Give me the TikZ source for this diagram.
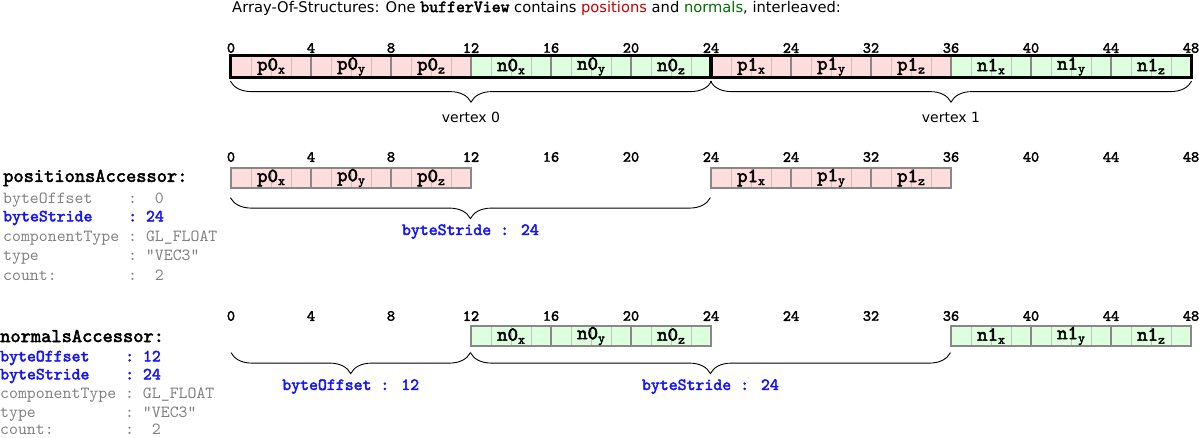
\documentclass[tikz,border=0pt]{standalone}
\usepackage{fontspec}
\setmainfont{DejaVu Sans}
\newfontfamily\codefont{lmmono10-regular.otf}[
    BoldFont = lmmono10-regular.otf, BoldFeatures = {FakeBold = 2.5}]
\usetikzlibrary{decorations.pathreplacing}

\definecolor{posfill}{RGB}{255,221,221}
\definecolor{nrmfill}{RGB}{221,255,221}
\definecolor{cellgray}{RGB}{136,136,136}
\definecolor{bytegray}{RGB}{195,195,195}
\definecolor{textgray}{RGB}{128,128,128}
\definecolor{strideblue}{RGB}{20,20,250}
\definecolor{posred}{RGB}{200,0,0}
\definecolor{nrmgreen}{RGB}{0,110,0}

\newcommand{\comp}[2]{{\fontsize{20}{20}\selectfont #1}\raisebox{-3pt}{\fontsize{13}{13}\selectfont #2}}

\begin{document}
\begin{tikzpicture}[
    x = 1pt, y = -1pt,
    every node/.style = {inner sep = 0pt},
    cell/.style = {draw = cellgray, line width = 1.2pt,
        minimum width = 80pt, minimum height = 20pt,
        font = \codefont\bfseries,
        path picture = {\foreach \s in {20,40,60}
            \draw[bytegray, line width = 0.8pt]
                ([xshift=\s pt]path picture bounding box.south west) --
                ([xshift=\s pt]path picture bounding box.north west);}},
    poscell/.style = {cell, fill = posfill},
    nrmcell/.style = {cell, fill = nrmfill},
    vertexbox/.style = {draw = black, line width = 3pt},
    tick/.style = {font = \codefont\bfseries\fontsize{15.5}{15.5}\selectfont},
    curly/.style = {decorate, line width = 0.9pt,
        decoration = {brace, mirror, amplitude = 21pt}},
    bracetext/.style = {font = \fontsize{14}{14}\selectfont},
    stridetext/.style = {text = strideblue,
        font = \codefont\bfseries\fontsize{17}{17}\selectfont},
    acchead/.style = {anchor = west,
        font = \codefont\bfseries\fontsize{19.5}{19.5}\selectfont},
    accline/.style = {anchor = west, text = textgray,
        font = \codefont\fontsize{17}{17}\selectfont},
    accblue/.style = {anchor = west, text = strideblue,
        font = \codefont\bfseries\fontsize{17}{17}\selectfont}]

\useasboundingbox (0,0) rectangle (1199,437);

% title
\node[anchor = west, font = \fontsize{14.7}{14.7}\selectfont] (title) at (232,8)
    {Array-Of-Structures: One {\codefont\bfseries\fontsize{17}{17}\selectfont bufferView} contains
     \textcolor{posred}{positions} and \textcolor{nrmgreen}{normals}, interleaved:};

% byte offsets above each row
\foreach \row/\y in {a/48, b/157, c/316}
    \foreach \lab [count = \k from 0] in {0,4,8,12,16,20,24,24,32,36,40,44,48}
        \node[tick] (\row\k) at ({231+80*\k},\y) {\lab};

% bufferView
\node[poscell] (bv0px) at (271,66.5) {\comp{p0}{x}};
\node[poscell] (bv0py) at (351,66.5) {\comp{p0}{y}};
\node[poscell] (bv0pz) at (431,66.5) {\comp{p0}{z}};
\node[nrmcell] (bv0nx) at (511,66.5) {\comp{n0}{x}};
\node[nrmcell] (bv0ny) at (591,66.5) {\comp{n0}{y}};
\node[nrmcell] (bv0nz) at (671,66.5) {\comp{n0}{z}};
\node[poscell] (bv1px) at (751,66.5) {\comp{p1}{x}};
\node[poscell] (bv1py) at (831,66.5) {\comp{p1}{y}};
\node[poscell] (bv1pz) at (911,66.5) {\comp{p1}{z}};
\node[nrmcell] (bv1nx) at (991,66.5) {\comp{n1}{x}};
\node[nrmcell] (bv1ny) at (1071,66.5) {\comp{n1}{y}};
\node[nrmcell] (bv1nz) at (1151,66.5) {\comp{n1}{z}};
\draw[vertexbox] (bv0px.north west) rectangle (bv0nz.south east);
\draw[vertexbox] (bv1px.north west) rectangle (bv1nz.south east);

\draw[curly] ([yshift=-4pt]bv0px.south west) -- ([yshift=-4pt]bv0nz.south east)
    node[bracetext, midway, yshift=-36pt] {vertex 0};
\draw[curly] ([yshift=-4pt]bv1px.south west) -- ([yshift=-4pt]bv1nz.south east)
    node[bracetext, midway, yshift=-36pt] {vertex 1};

% positions
\node[poscell] (pos0x) at (271,178) {\comp{p0}{x}};
\node[poscell] (pos0y) at (351,178) {\comp{p0}{y}};
\node[poscell] (pos0z) at (431,178) {\comp{p0}{z}};
\node[poscell] (pos1x) at (751,178) {\comp{p1}{x}};
\node[poscell] (pos1y) at (831,178) {\comp{p1}{y}};
\node[poscell] (pos1z) at (911,178) {\comp{p1}{z}};

\draw[curly] ([yshift=-9pt]pos0x.south west) -- ([yshift=-9pt]pos1x.south west)
    node[stridetext, midway, yshift=-34pt] {byteStride : 24};

\node[acchead] (posacc) at (3,178) {positionsAccessor:};
\node[accline] (posoffset) at (3,200) {byteOffset~~~~:~~0};
\node[accblue] (posstride) at (3,218) {byteStride~~~~:~24};
\node[accline] (poscomp) at (3,238) {componentType~:~GL\_FLOAT};
\node[accline] (postype) at (3,257) {type~~~~~~~~~~:~"VEC3"};
\node[accline] (poscount) at (3,275) {count:~~~~~~~~:~~2};

% normals
\node[nrmcell] (nrm0x) at (511,336) {\comp{n0}{x}};
\node[nrmcell] (nrm0y) at (591,336) {\comp{n0}{y}};
\node[nrmcell] (nrm0z) at (671,336) {\comp{n0}{z}};
\node[nrmcell] (nrm1x) at (991,336) {\comp{n1}{x}};
\node[nrmcell] (nrm1y) at (1071,336) {\comp{n1}{y}};
\node[nrmcell] (nrm1z) at (1151,336) {\comp{n1}{z}};

\draw[curly] ([yshift=-6pt]c0 |- nrm0x.south) -- ([yshift=-6pt]nrm0x.south west)
    node[stridetext, midway, yshift=-34pt] {byteOffset : 12};
\draw[curly] ([yshift=-6pt]nrm0x.south west) -- ([yshift=-6pt]nrm1x.south west)
    node[stridetext, midway, yshift=-34pt] {byteStride : 24};

\node[acchead] (nrmacc) at (0,336) {normalsAccessor:};
\node[accblue] (nrmoffset) at (0,358) {byteOffset~~~~:~12};
\node[accblue] (nrmstride) at (0,376) {byteStride~~~~:~24};
\node[accline] (nrmcomp) at (0,395) {componentType~:~GL\_FLOAT};
\node[accline] (nrmtype) at (0,414) {type~~~~~~~~~~:~"VEC3"};
\node[accline] (nrmcount) at (0,429) {count:~~~~~~~~:~~2};
\end{tikzpicture}
\end{document}
